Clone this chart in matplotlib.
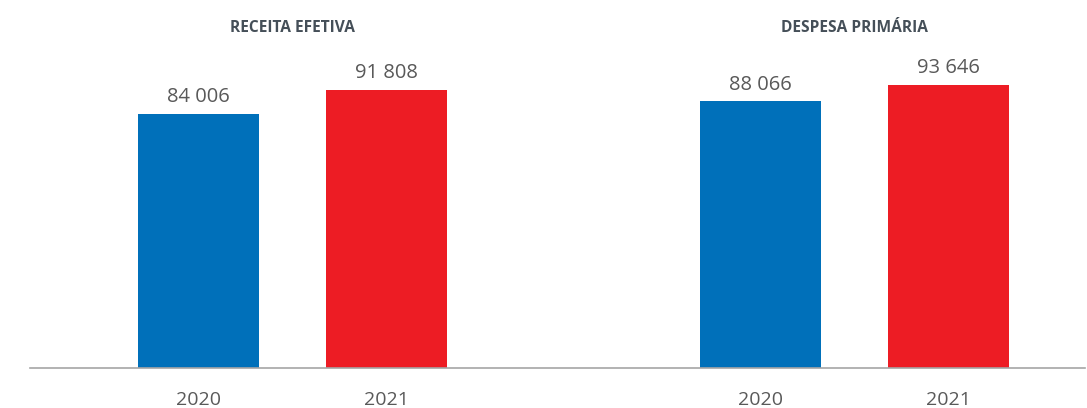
import matplotlib.pyplot as plt

# Receita efetiva e despesa primária (milhões de euros)
groups = ['RECEITA EFETIVA', 'DESPESA PRIMÁRIA']
years = ['2020', '2021']
values_2020 = [84006, 88066]
values_2021 = [91808, 93646]

blue = '#0070BA'
red = '#ED1C24'
text_grey = '#595959'

plt.rcParams['font.family'] = ['Open Sans', 'DejaVu Sans']

fig = plt.figure(figsize=(10.87, 4.08), dpi=100)
ax = fig.add_axes([30 / 1087, 40 / 408, 1055 / 1087, 368 / 408])

width = 0.644
for g in range(len(groups)):
    x0 = g * 2.99
    for k, (val, col) in enumerate([(values_2020[g], blue), (values_2021[g], red)]):
        ax.bar(x0 + k, val, width=width, color=col)
        ax.annotate('{:,}'.format(val).replace(',', ' '), (x0 + k, val),
                    xytext=(0, 5), textcoords='offset points',
                    ha='center', va='bottom', fontsize=14.5, color=text_grey)
        ax.text(x0 + k, -10500, years[k], ha='center', va='center',
                fontsize=14, color=text_grey)
    ax.text(x0 + 0.5, 112200, groups[g], ha='center', va='center',
            fontsize=11.2, fontweight='bold', color='#454f58')

ax.set_xlim(-0.896, 4.715)
ax.set_ylim(0, 121600)
ax.axhline(0, color='#A6A6A6', lw=1.2, clip_on=False)
for s in ax.spines.values():
    s.set_visible(False)
ax.set_xticks([])
ax.set_yticks([])

fig.savefig('out.png', dpi=100)
